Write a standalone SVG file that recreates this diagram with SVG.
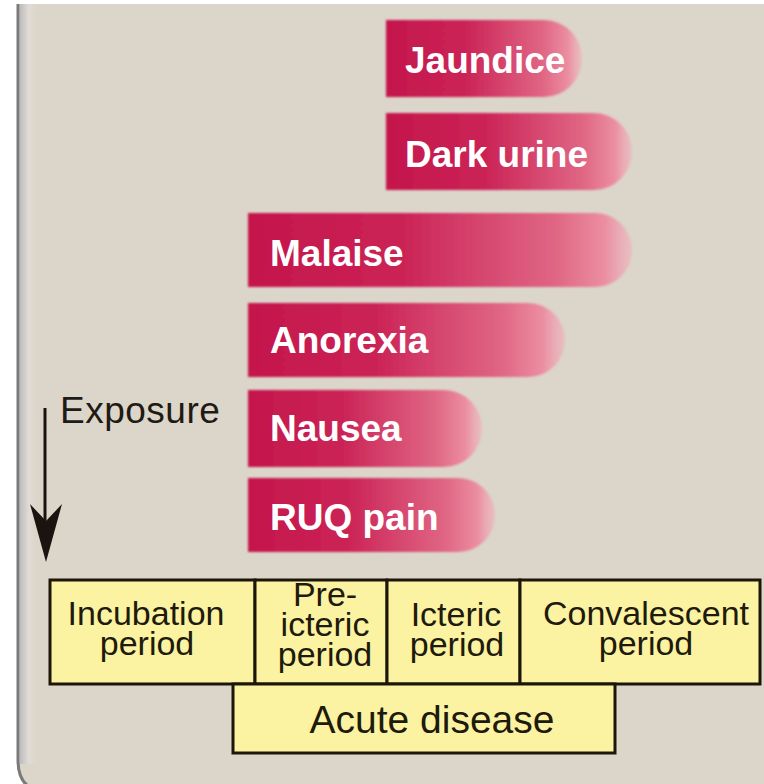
<svg xmlns="http://www.w3.org/2000/svg" width="764" height="784" viewBox="0 0 764 784">
<defs>
<linearGradient id="bar" x1="0" y1="0" x2="1" y2="0">
<stop offset="0" stop-color="#c4164c"/>
<stop offset="0.4" stop-color="#cb2356"/>
<stop offset="0.8" stop-color="#e06684"/>
<stop offset="0.93" stop-color="#eb8ea2"/>
<stop offset="1" stop-color="#efb0bb" stop-opacity="0.6"/>
</linearGradient>
<linearGradient id="edge" x1="0" y1="0" x2="1" y2="0">
<stop offset="0" stop-color="#bdbdbd"/>
<stop offset="0.5" stop-color="#e2dcd6"/>
<stop offset="1" stop-color="#dcd5ca" stop-opacity="0"/>
</linearGradient>
<filter id="soft" x="-5%" y="-10%" width="110%" height="120%">
<feGaussianBlur stdDeviation="1.2"/>
</filter>
</defs>
<style>
.bar{fill:url(#bar);filter:url(#soft)}
.bt{font-family:"Liberation Sans",Arial,sans-serif;font-weight:bold;font-size:37px;fill:#ffffff}
.box{fill:#fbf3a2;stroke:#1c1608;stroke-width:3}
.tt{font-family:"Liberation Sans",Arial,sans-serif;font-size:34px;fill:#1e1a0c;text-anchor:middle}
.lbl{font-family:"Liberation Sans",Arial,sans-serif;font-size:37px;fill:#1e1a14;letter-spacing:0.5px}
</style>
<rect width="764" height="784" fill="#ffffff"/>
<path d="M 780 4 H 18 V 760 Q 18 790 45 792 H 780 Z" fill="#dcd5ca"/>
<rect x="20" y="4" width="18" height="760" fill="url(#edge)"/>
<path d="M 18 4 V 760 Q 18 790 45 792" fill="none" stroke="#7a7a7a" stroke-width="3"/>

<g id="jaundice">
<path class="bar" d="M386 20 H544 A38 38.5 0 0 1 544 97 H386 Z"/>
<text class="bt" x="405" y="73">Jaundice</text>
</g>
<g id="dark-urine">
<path class="bar" d="M386 113 H594 A38 38.5 0 0 1 594 190 H386 Z"/>
<text class="bt" x="405" y="167">Dark urine</text>
</g>
<g id="malaise">
<path class="bar" d="M248 213 H595 A37 37 0 0 1 595 287 H248 Z"/>
<text class="bt" x="270" y="266">Malaise</text>
</g>
<g id="anorexia">
<path class="bar" d="M248 303 H528 A37 37 0 0 1 528 377 H248 Z"/>
<text class="bt" x="270" y="353">Anorexia</text>
</g>
<g id="nausea">
<path class="bar" d="M248 390 H444 A38 38.5 0 0 1 444 467 H248 Z"/>
<text class="bt" x="270" y="441">Nausea</text>
</g>
<g id="ruq-pain">
<path class="bar" d="M248 478 H458 A37 37 0 0 1 458 552 H248 Z"/>
<text class="bt" x="270" y="530">RUQ pain</text>
</g>

<g id="exposure">
<text class="lbl" x="60" y="423">Exposure</text>
</g>

<g id="connectors">
<line x1="45" y1="408" x2="45" y2="525" stroke="#1a1410" stroke-width="3"/>
<polygon points="30,504 46,521 62,504 46,562" fill="#1a1410"/>
</g>

<g id="incubation">
<rect class="box" x="50" y="580" width="205" height="104"/>
<text class="tt" x="146" y="625">Incubation</text>
<text class="tt" x="147" y="655">period</text>
</g>
<g id="pre-icteric">
<rect class="box" x="255" y="580" width="132" height="104"/>
<text class="tt" x="325" y="606">Pre-</text>
<text class="tt" x="325" y="636">icteric</text>
<text class="tt" x="325" y="666">period</text>
</g>
<g id="icteric">
<rect class="box" x="387" y="580" width="133" height="104"/>
<text class="tt" x="456" y="626">Icteric</text>
<text class="tt" x="457" y="656">period</text>
</g>
<g id="convalescent">
<rect class="box" x="520" y="580" width="240" height="104"/>
<text class="tt" x="646" y="625">Convalescent</text>
<text class="tt" x="646" y="655">period</text>
</g>
<g id="acute-disease">
<rect class="box" x="233" y="684" width="382" height="69"/>
<text class="tt" x="432" y="733" style="font-size:39px">Acute disease</text>
</g>
</svg>
